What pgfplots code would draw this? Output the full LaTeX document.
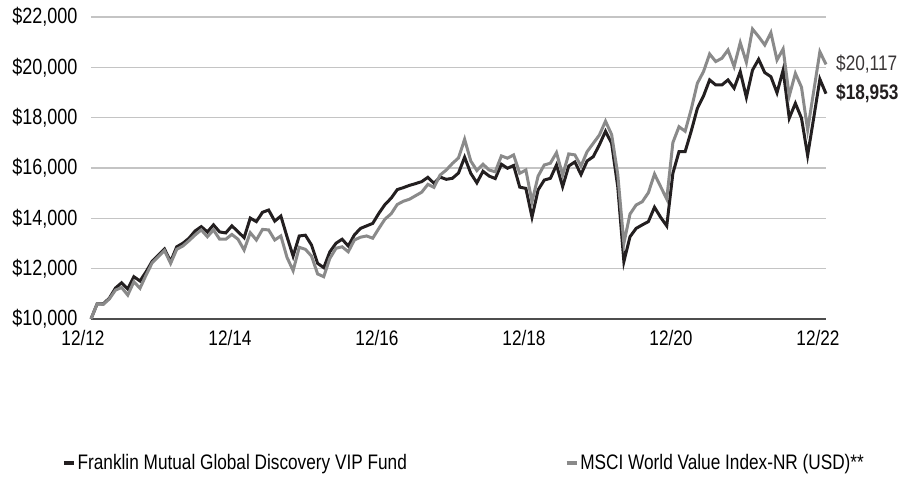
\documentclass[border=0pt]{standalone}
\usepackage{pgfplots}
\pgfplotsset{compat=1.18}
\usepackage{pgfplotstable}
\usepackage{fontspec}
\setmainfont{Liberation Sans}[FakeStretch=0.82]
\definecolor{fundc}{HTML}{231F20}
\definecolor{idxc}{HTML}{8A8A8A}
\definecolor{gridc}{HTML}{C4C4C4}
\definecolor{axisc}{HTML}{4D4D4D}

\pgfplotstableread{
m fund idx
0 10000 10000
1 10600 10600
2 10600 10580
3 10830 10800
4 11230 11150
5 11440 11250
6 11190 10950
7 11680 11480
8 11510 11220
9 11880 11750
10 12300 12240
11 12540 12480
12 12780 12720
13 12280 12210
14 12870 12770
15 13010 12900
16 13210 13110
17 13500 13340
18 13670 13540
19 13460 13270
20 13740 13540
21 13460 13170
22 13420 13170
23 13700 13360
24 13470 13170
25 13230 12740
26 14010 13430
27 13870 13140
28 14240 13560
29 14330 13540
30 13890 13140
31 14090 13300
32 13270 12450
33 12500 11920
34 13300 12850
35 13330 12770
36 12940 12500
37 12210 11790
38 12040 11680
39 12670 12410
40 13010 12810
41 13170 12870
42 12900 12670
43 13340 13140
44 13600 13250
45 13700 13300
46 13800 13210
47 14200 13600
48 14550 13970
49 14800 14180
50 15140 14550
51 15220 14680
52 15310 14760
53 15380 14900
54 15460 15040
55 15630 15350
56 15390 15230
57 15640 15720
58 15550 15920
59 15590 16180
60 15800 16400
61 16430 17140
62 15790 16280
63 15410 15900
64 15870 16150
65 15680 15920
66 15580 15850
67 16150 16480
68 15990 16390
69 16100 16520
70 15240 15790
71 15190 15920
72 14050 14660
73 15130 15680
74 15520 16120
75 15590 16190
76 16120 16610
77 15260 15720
78 16080 16560
79 16240 16520
80 15740 16080
81 16280 16650
82 16450 16980
83 16920 17310
84 17460 17860
85 16980 17330
86 15250 15750
87 12280 13010
88 13270 14170
89 13600 14530
90 13740 14660
91 13870 15020
92 14440 15760
93 14040 15260
94 13700 14770
95 15790 17010
96 16650 17640
97 16650 17460
98 17470 18340
99 18370 19370
100 18860 19830
101 19500 20530
102 19300 20230
103 19300 20360
104 19500 20690
105 19170 20030
106 19830 20980
107 18810 20200
108 19890 21520
109 20320 21220
110 19790 20890
111 19630 21380
112 18990 20290
113 19890 20730
114 17980 18860
115 18570 19760
116 17980 19210
117 16500 17510
118 18000 19060
119 19530 20620
120 18953 20117
}\datatable

\begin{document}
\begin{tikzpicture}[font=\fontsize{21bp}{25bp}\selectfont]
\begin{axis}[
  at={(0,0)}, anchor=south west,
  scale only axis, width=735bp, height=302bp,
  xmin=0, xmax=120, ymin=10000, ymax=22000,
  scaled y ticks=false,
  clip=false,
  axis x line=bottom, axis y line=left,
  x axis line style={-, color=axisc, line width=1.6bp},
  y axis line style={draw=none},
  major tick length=0pt,
  tick style={draw=none},
  xtick={0,24,48,72,96,120},
  xticklabels={12/12,12/14,12/16,12/18,12/20,12/22},
  xticklabel style={xshift=-8bp, yshift=-8bp},
  ytick={10000,12000,14000,16000,18000,20000,22000},
  yticklabels={{\$10,000},{\$12,000},{\$14,000},{\$16,000},{\$18,000},{\$20,000},{\$22,000}},
  yticklabel style={xshift=-10bp, font=\fontsize{22bp}{26bp}\selectfont},
  ymajorgrids,
  grid style={color=gridc, line width=1.3bp},
  legend columns=2,
  legend style={at={(axis description cs:-0.0395,-0.477)}, anchor=west,
    draw=none, fill=none, inner sep=0pt,
    font=\fontsize{21bp}{25bp}\selectfont,
    /tikz/every even column/.append style={column sep=156bp}},
  legend cell align=left,
  legend image code/.code={\draw[#1, line width=3.5bp] (0bp,0bp) -- (10bp,0bp);},
]
\addplot[color=fundc, line width=3bp, line join=miter] table[x=m, y=fund] {\datatable};
\addlegendentry{Franklin Mutual Global Discovery VIP Fund}
\addplot[color=idxc, line width=3bp, line join=miter] table[x=m, y=idx] {\datatable};
\addlegendentry{MSCI World Value Index-NR (USD)**}
\node[anchor=west, inner sep=0pt, xshift=10bp, text=fundc!90] at (axis cs:120,20117) {\$20,117};
\node[anchor=west, inner sep=0pt, xshift=10bp, text=fundc] at (axis cs:120,18953) {\bfseries\$18,953};
\end{axis}
\pgfresetboundingbox
\path (-91bp,-159bp) rectangle (815bp,319bp);
\end{tikzpicture}
\end{document}
